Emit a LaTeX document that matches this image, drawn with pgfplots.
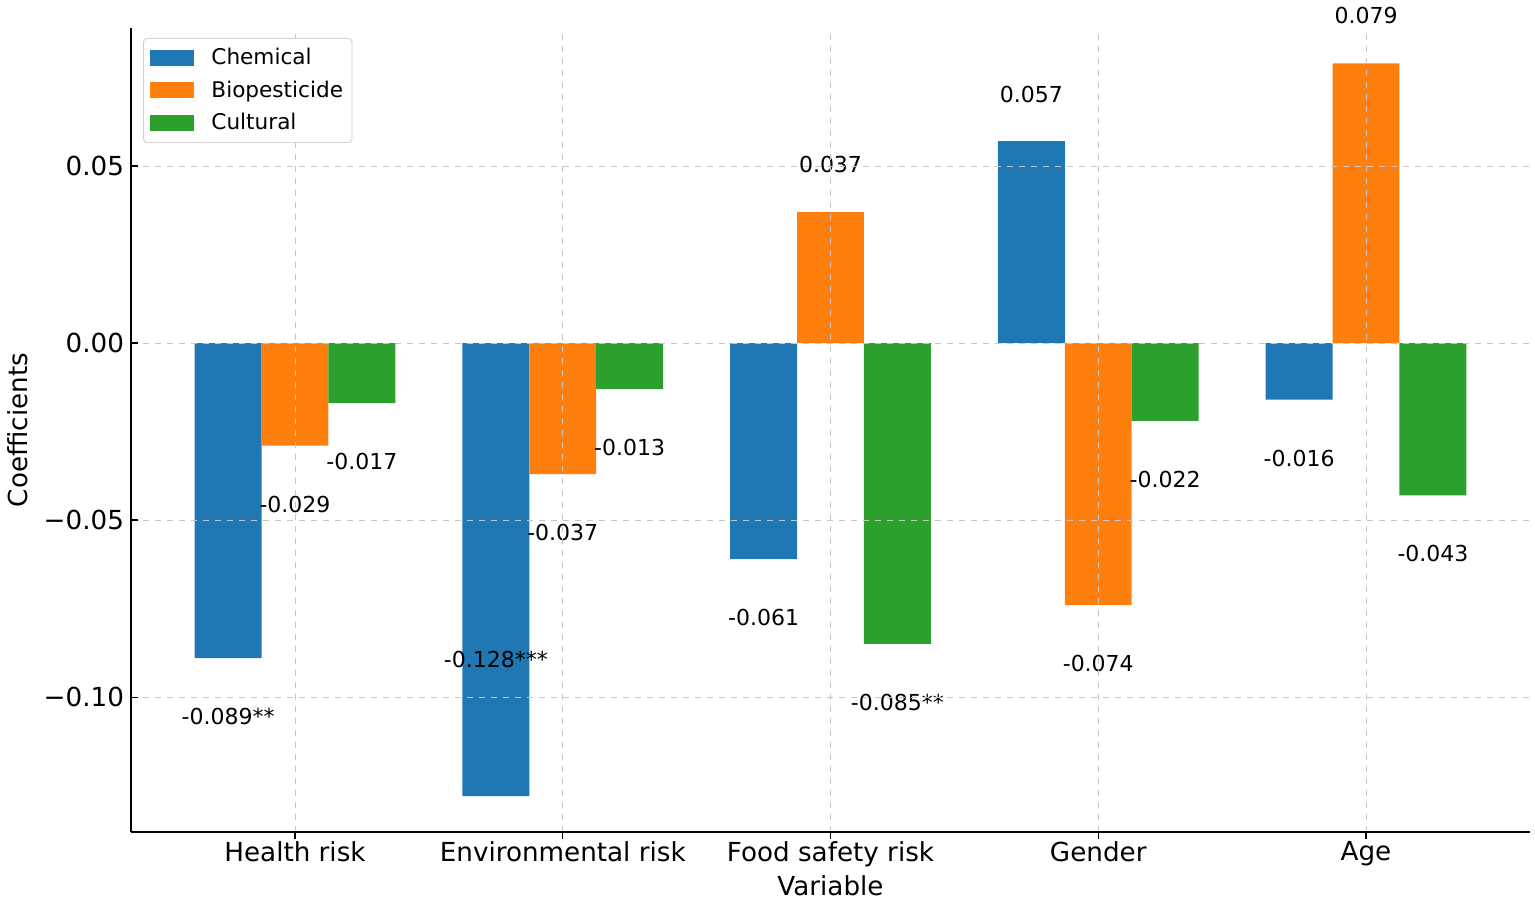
\documentclass[border=0pt]{standalone}
\usepackage{pgfplots}
\pgfplotsset{compat=1.18}
\usepackage{fontspec}
\setmainfont{DejaVu Sans}
\usetikzlibrary{calc}

\definecolor{tabblue}{RGB}{31,119,180}
\definecolor{taborange}{RGB}{255,127,14}
\definecolor{tabgreen}{RGB}{44,160,44}

\newcommand{\barlab}{\fontsize{11}{13}\selectfont}

\begin{document}
\begin{tikzpicture}
\begin{axis}[
    name=ax,
    scale only axis,
    width=699.5pt, height=402pt,
    xmin=-0.6125, xmax=4.6125,
    ymin=-0.1381, ymax=0.08898,
    ybar, bar width=0.25,
    axis on top,
    clip=false,
    axis x line*=bottom, axis y line*=left,
    axis line style={line width=0.9pt, black},
    xtick={0,1,2,3,4},
    xticklabels={Health risk, Environmental risk, Food safety risk, Gender, Age},
    ytick={-0.10,-0.05,0,0.05},
    yticklabels={−0.10, −0.05, 0.00, 0.05},
    tick label style={font=\fontsize{13.1}{15}\selectfont},
    xticklabel style={inner ysep=1pt},
    label style={font=\fontsize{13.1}{15}\selectfont},
    major tick length=3.5pt,
    tick style={black, line width=0.6pt},
    grid=major,
    major grid style={dashed, gray!45, line width=0.4pt},
    xlabel={Variable},
    ylabel={Coefficients},
    xlabel style={at={(axis description cs:0.5,-0.0672)}, anchor=center},
    ylabel style={at={(axis description cs:-0.0808,0.5)}, anchor=center},
    legend style={
        at={(0.0086,0.9876)}, anchor=north west,
        draw=gray!35, rounded corners=2pt,
        font=\fontsize{10.8}{12}\selectfont,
        row sep=2.5pt, inner xsep=3.5pt, inner ysep=3pt,
        nodes={inner xsep=1pt},
        /tikz/every odd column/.append style={column sep=7.5pt},
    },
    legend cell align=left,
    legend image code/.code={\fill[#1, sharp corners] (0pt,-4pt) rectangle (22pt,4pt);},
]

% Chemical
\addplot[fill=tabblue, draw=none, bar shift=-0.25] coordinates {
    (0,-0.089) (1,-0.128) (2,-0.061) (3,0.057) (4,-0.016)
};
\addlegendentry{Chemical}

% Biopesticide
\addplot[fill=taborange, draw=none, bar shift=0] coordinates {
    (0,-0.029) (1,-0.037) (2,0.037) (3,-0.074) (4,0.079)
};
\addlegendentry{Biopesticide}

% Cultural
\addplot[fill=tabgreen, draw=none, bar shift=0.25] coordinates {
    (0,-0.017) (1,-0.013) (2,-0.085) (3,-0.022) (4,-0.043)
};
\addlegendentry{Cultural}

% value labels
\node[font=\barlab] at (axis cs:-0.25,-0.1055) {-0.089**};
\node[font=\barlab] at (axis cs:0,-0.0455) {-0.029};
\node[font=\barlab] at (axis cs:0.25,-0.0335) {-0.017};
\node[font=\barlab] at (axis cs:0.75,-0.0895) {-0.128***};
\node[font=\barlab] at (axis cs:1,-0.0535) {-0.037};
\node[font=\barlab] at (axis cs:1.25,-0.0295) {-0.013};
\node[font=\barlab] at (axis cs:1.75,-0.0775) {-0.061};
\node[font=\barlab] at (axis cs:2,0.0505) {0.037};
\node[font=\barlab] at (axis cs:2.25,-0.1015) {-0.085**};
\node[font=\barlab] at (axis cs:2.75,0.0703) {0.057};
\node[font=\barlab] at (axis cs:3,-0.0905) {-0.074};
\node[font=\barlab] at (axis cs:3.25,-0.0385) {-0.022};
\node[font=\barlab] at (axis cs:3.75,-0.0325) {-0.016};
\node[font=\barlab] at (axis cs:4,0.0924) {0.079};
\node[font=\barlab] at (axis cs:4.25,-0.0595) {-0.043};
\end{axis}
\pgfresetboundingbox
\path[use as bounding box] ($(ax.south west)+(-65.5pt,-36pt)$) rectangle ($(ax.north east)+(2.5pt,14pt)$);
\end{tikzpicture}
\end{document}
